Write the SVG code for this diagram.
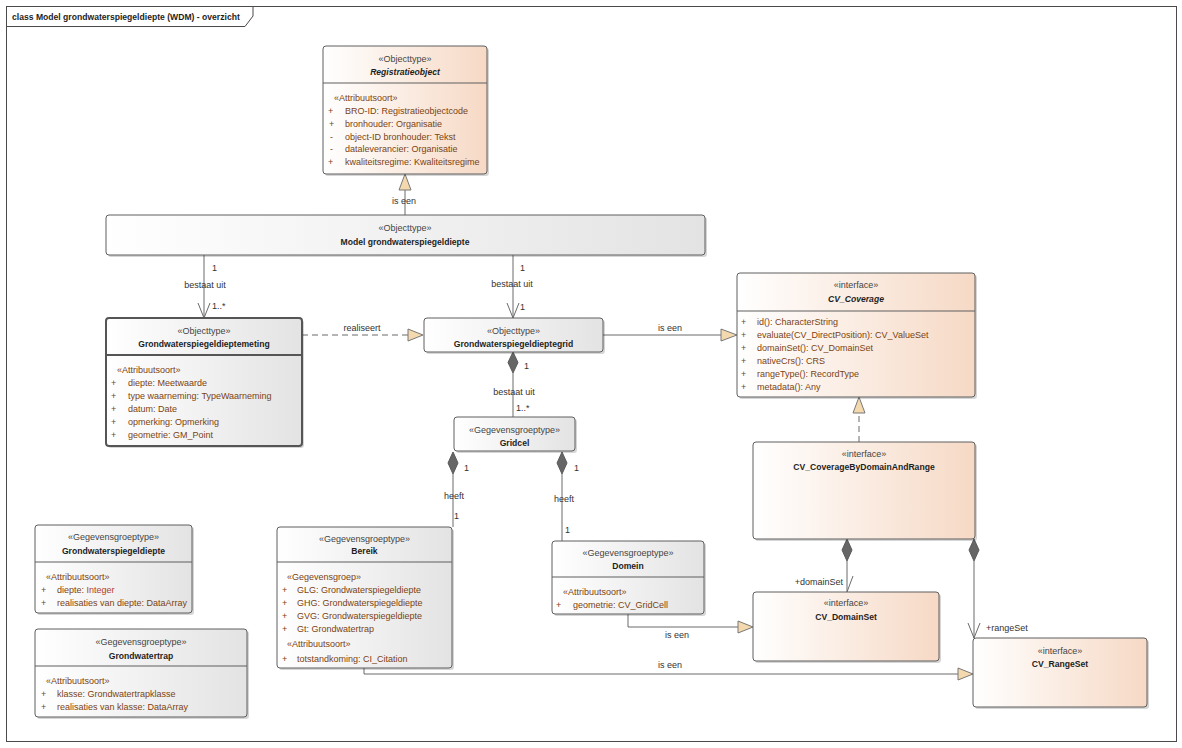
<svg xmlns="http://www.w3.org/2000/svg" width="1182" height="748" viewBox="0 0 1182 748">
<defs>
<linearGradient id="gGray" x1="0" y1="0" x2="1" y2="0"><stop offset="0" stop-color="#ffffff"/><stop offset="1" stop-color="#e3e3e3"/></linearGradient>
<linearGradient id="gPeach" x1="0" y1="0" x2="1" y2="0"><stop offset="0" stop-color="#ffffff"/><stop offset="1" stop-color="#f6d9c5"/></linearGradient>
<style>
.sh{fill:#000;opacity:0.16}
.bx{stroke:#5e5e5e;stroke-width:1}
.gy{fill:url(#gGray)}
.pc{fill:url(#gPeach)}
.dv{stroke:#5e5e5e;stroke-width:1}
text{font-family:"Liberation Sans",Arial,sans-serif;font-size:9px}
.st{fill:#444;text-anchor:middle}
.nm{fill:#1e1e1e;text-anchor:middle;font-weight:bold;font-size:8.6px}
.it{font-style:italic}
.at{fill:#7a4312}
.lb{fill:#333}
.md{text-anchor:middle}
.ln{stroke:#6a6a6a;stroke-width:1;fill:none}
.da{stroke-dasharray:6,4}
.tri{fill:#f4d9ae;stroke:#787878;stroke-width:1}
.dia{fill:#666;stroke:#5a5a5a;stroke-width:1}
</style>
</defs>
<rect x="0" y="0" width="1182" height="748" fill="#ffffff"/>
<g id="frame">
<rect x="6.5" y="6.5" width="1170" height="735" fill="#ffffff" stroke="#4a4a4a"/>
<path d="M6.5,26.5 H245 L253,16 V6.5" fill="none" stroke="#4a4a4a"/>
<text x="12" y="20" style="font-weight:bold;font-size:8.6px" fill="#1e1e1e">class Model grondwaterspiegeldiepte (WDM) - overzicht</text>
</g>

<g id="connectors">
<!-- Model -> Registratieobject -->
<line class="ln" x1="405" y1="215" x2="405" y2="190"/>
<polygon class="tri" points="405,174 399,190 411,190"/>
<text class="lb md" x="404" y="204">is een</text>
<!-- Model -> Meting -->
<line class="ln" x1="204" y1="255" x2="204" y2="318"/>
<path class="ln" d="M198,303 L204,318 L210,303"/>
<text class="lb" x="212" y="271">1</text>
<text class="lb md" x="205" y="288">bestaat uit</text>
<text class="lb" x="212" y="309">1..*</text>
<!-- Model -> Grid -->
<line class="ln" x1="513" y1="255" x2="513" y2="318"/>
<path class="ln" d="M507,303 L513,318 L519,303"/>
<text class="lb" x="520" y="271">1</text>
<text class="lb md" x="512" y="287">bestaat uit</text>
<text class="lb" x="520" y="310">1</text>
<!-- realiseert -->
<line class="ln da" x1="302" y1="335" x2="408" y2="335"/>
<polygon class="tri" points="423,335 408,329 408,341"/>
<text class="lb md" x="362" y="331">realiseert</text>
<!-- Grid -> CV_Coverage -->
<line class="ln" x1="603" y1="335" x2="721" y2="335"/>
<polygon class="tri" points="737,335 721,329 721,341"/>
<text class="lb md" x="670" y="331">is een</text>
<!-- Grid -> Gridcel -->
<line class="ln" x1="513" y1="373" x2="513" y2="417"/>
<polygon class="dia" points="513,352 518,362.5 513,373 508,362.5"/>
<text class="lb" x="524" y="369">1</text>
<text class="lb md" x="514" y="395">bestaat uit</text>
<text class="lb" x="516" y="411">1..*</text>
<!-- Gridcel -> Bereik -->
<line class="ln" x1="453" y1="474" x2="453" y2="527"/>
<polygon class="dia" points="453,452 458,463 453,474 448,463"/>
<text class="lb" x="464" y="471">1</text>
<text class="lb md" x="454" y="499">heeft</text>
<text class="lb" x="454" y="519">1</text>
<!-- Gridcel -> Domein -->
<line class="ln" x1="562" y1="474" x2="562" y2="541"/>
<polygon class="dia" points="562,452 567,463 562,474 557,463"/>
<text class="lb" x="574" y="471">1</text>
<text class="lb md" x="564" y="502">heeft</text>
<text class="lb" x="565" y="533">1</text>
<!-- CBDAR -> CV_Coverage -->
<line class="ln da" x1="859" y1="442" x2="859" y2="413"/>
<polygon class="tri" points="859,397 853,413 865,413"/>
<!-- CBDAR -> DomainSet -->
<line class="ln" x1="847" y1="561" x2="847" y2="592"/>
<polygon class="dia" points="847,539 852,550 847,561 842,550"/>
<path class="ln" d="M853,576 L847,592"/>
<text class="lb" x="843" y="585" text-anchor="end">+domainSet</text>
<!-- CBDAR -> RangeSet -->
<line class="ln" x1="974" y1="561" x2="974" y2="638"/>
<polygon class="dia" points="974,539 979,550 974,561 969,550"/>
<path class="ln" d="M968,623 L974,638 L980,623"/>
<text class="lb" x="986" y="631">+rangeSet</text>
<!-- Domein -> DomainSet -->
<path class="ln" d="M628,614 V627 H738"/>
<polygon class="tri" points="753,627 738,621 738,633"/>
<text class="lb md" x="677" y="638">is een</text>
<!-- Bereik -> RangeSet -->
<path class="ln" d="M364,668 V674 H958"/>
<polygon class="tri" points="973,674 958,668 958,680"/>
<text class="lb md" x="670" y="668">is een</text>
</g>

<g id="Registratieobject">
<rect class="sh" x="325" y="48" width="164" height="128" rx="3"/>
<rect class="bx pc" x="323" y="46" width="164" height="128" rx="3"/>
<line class="dv" x1="323" y1="83" x2="487" y2="83"/>
<text class="st" x="405" y="62">«Objecttype»</text>
<text class="nm it" x="405" y="75">Registratieobject</text>
<text class="at" x="334" y="101">«Attribuutsoort»</text>
<text class="at" x="328" y="114">+</text><text class="at" x="345" y="114">BRO-ID: Registratieobjectcode</text>
<text class="at" x="329" y="127">+</text><text class="at" x="345" y="127">bronhouder: Organisatie</text>
<text class="at" x="330" y="140">-</text><text class="at" x="345" y="140">object-ID bronhouder: Tekst</text>
<text class="at" x="330" y="152">-</text><text class="at" x="345" y="152">dataleverancier: Organisatie</text>
<text class="at" x="328" y="165">+</text><text class="at" x="345" y="165">kwaliteitsregime: Kwaliteitsregime</text>
</g>

<g id="ModelGrondwaterspiegeldiepte">
<rect class="sh" x="108" y="217" width="599" height="40" rx="3"/>
<rect class="bx gy" x="106" y="215" width="599" height="40" rx="3"/>
<text class="st" x="405" y="231">«Objecttype»</text>
<text class="nm" x="405" y="245">Model grondwaterspiegeldiepte</text>
</g>

<g id="Grondwaterspiegeldieptemeting">
<rect class="sh" x="108" y="320" width="196" height="128" rx="3"/>
<rect class="gy" x="106" y="318" width="196" height="128" rx="3" stroke="#555" stroke-width="2"/>
<line x1="106" y1="355" x2="302" y2="355" stroke="#555" stroke-width="2"/>
<text class="st" x="204" y="334">«Objecttype»</text>
<text class="nm" x="204" y="347">Grondwaterspiegeldieptemeting</text>
<text class="at" x="117" y="373">«Attribuutsoort»</text>
<text class="at" x="111" y="386">+</text><text class="at" x="128" y="386">diepte: Meetwaarde</text>
<text class="at" x="111" y="399">+</text><text class="at" x="128" y="399">type waarneming: TypeWaarneming</text>
<text class="at" x="111" y="412">+</text><text class="at" x="128" y="412">datum: Date</text>
<text class="at" x="111" y="425">+</text><text class="at" x="128" y="425">opmerking: Opmerking</text>
<text class="at" x="111" y="438">+</text><text class="at" x="128" y="438">geometrie: GM_Point</text>
</g>

<g id="Grondwaterspiegeldieptegrid">
<rect class="sh" x="426" y="320" width="179" height="34" rx="3"/>
<rect class="bx gy" x="424" y="318" width="179" height="34" rx="3"/>
<text class="st" x="513.5" y="334">«Objecttype»</text>
<text class="nm" x="513.5" y="347">Grondwaterspiegeldieptegrid</text>
</g>

<g id="CV_Coverage">
<rect class="sh" x="739" y="275" width="238" height="124" rx="3"/>
<rect class="bx pc" x="737" y="273" width="238" height="124" rx="3"/>
<line class="dv" x1="737" y1="311" x2="975" y2="311"/>
<text class="st" x="856" y="288">«interface»</text>
<text class="nm it" x="856" y="302">CV_Coverage</text>
<text class="at" x="741" y="325">+</text><text class="at" x="757" y="325">id(): CharacterString</text>
<text class="at" x="741" y="338">+</text><text class="at" x="757" y="338">evaluate(CV_DirectPosition): CV_ValueSet</text>
<text class="at" x="741" y="351">+</text><text class="at" x="757" y="351">domainSet(): CV_DomainSet</text>
<text class="at" x="741" y="364">+</text><text class="at" x="757" y="364">nativeCrs(): CRS</text>
<text class="at" x="741" y="377">+</text><text class="at" x="757" y="377">rangeType(): RecordType</text>
<text class="at" x="741" y="390">+</text><text class="at" x="757" y="390">metadata(): Any</text>
</g>

<g id="CV_CoverageByDomainAndRange">
<rect class="sh" x="755" y="444" width="222" height="97" rx="3"/>
<rect class="bx pc" x="753" y="442" width="222" height="97" rx="3"/>
<text class="st" x="864" y="457">«interface»</text>
<text class="nm" x="864" y="470">CV_CoverageByDomainAndRange</text>
</g>

<g id="CV_DomainSet">
<rect class="sh" x="755" y="594" width="186" height="69" rx="3"/>
<rect class="bx pc" x="753" y="592" width="186" height="69" rx="3"/>
<text class="st" x="846" y="606">«interface»</text>
<text class="nm" x="846" y="620">CV_DomainSet</text>
</g>

<g id="CV_RangeSet">
<rect class="sh" x="975" y="640" width="174" height="69" rx="3"/>
<rect class="bx pc" x="973" y="638" width="174" height="69" rx="3"/>
<text class="st" x="1060" y="654">«interface»</text>
<text class="nm" x="1060" y="667">CV_RangeSet</text>
</g>

<g id="Gridcel">
<rect class="sh" x="456" y="419" width="121" height="34" rx="3"/>
<rect class="bx gy" x="454" y="417" width="121" height="34" rx="3"/>
<text class="st" x="514.5" y="433">«Gegevensgroeptype»</text>
<text class="nm" x="514.5" y="446">Gridcel</text>
</g>

<g id="Bereik">
<rect class="sh" x="279" y="529" width="175" height="141" rx="3"/>
<rect class="bx gy" x="277" y="527" width="175" height="141" rx="3"/>
<line class="dv" x1="277" y1="562" x2="452" y2="562"/>
<text class="st" x="364.5" y="542">«Gegevensgroeptype»</text>
<text class="nm" x="364.5" y="554">Bereik</text>
<text class="at" x="287" y="580">«Gegevensgroep»</text>
<text class="at" x="282" y="593">+</text><text class="at" x="297" y="593">GLG: Grondwaterspiegeldiepte</text>
<text class="at" x="282" y="606">+</text><text class="at" x="297" y="606">GHG: Grondwaterspiegeldiepte</text>
<text class="at" x="282" y="619">+</text><text class="at" x="297" y="619">GVG: Grondwaterspiegeldiepte</text>
<text class="at" x="282" y="632">+</text><text class="at" x="297" y="632">Gt: Grondwatertrap</text>
<text class="at" x="287" y="647">«Attribuutsoort»</text>
<text class="at" x="282" y="662">+</text><text class="at" x="297" y="662">totstandkoming: CI_Citation</text>
</g>

<g id="Domein">
<rect class="sh" x="554" y="543" width="152" height="73" rx="3"/>
<rect class="bx gy" x="552" y="541" width="152" height="73" rx="3"/>
<line class="dv" x1="552" y1="577" x2="704" y2="577"/>
<text class="st" x="628" y="556">«Gegevensgroeptype»</text>
<text class="nm" x="628" y="569">Domein</text>
<text class="at" x="563" y="595">«Attribuutsoort»</text>
<text class="at" x="556" y="608">+</text><text class="at" x="573" y="608">geometrie: CV_GridCell</text>
</g>

<g id="Grondwaterspiegeldiepte">
<rect class="sh" x="37" y="527" width="157" height="88" rx="3"/>
<rect class="bx gy" x="35" y="525" width="157" height="88" rx="3"/>
<line class="dv" x1="35" y1="562" x2="192" y2="562"/>
<text class="st" x="113.5" y="540">«Gegevensgroeptype»</text>
<text class="nm" x="113.5" y="554">Grondwaterspiegeldiepte</text>
<text class="at" x="46" y="580">«Attribuutsoort»</text>
<text class="at" x="41" y="593">+</text><text class="at" x="57" y="593">diepte: <tspan fill="#b3401f">Integer</tspan></text>
<text class="at" x="41" y="606">+</text><text class="at" x="57" y="606">realisaties van diepte: DataArray</text>
</g>

<g id="Grondwatertrap">
<rect class="sh" x="37" y="631" width="212" height="88" rx="3"/>
<rect class="bx gy" x="35" y="629" width="212" height="88" rx="3"/>
<line class="dv" x1="35" y1="666" x2="247" y2="666"/>
<text class="st" x="141" y="645">«Gegevensgroeptype»</text>
<text class="nm" x="141" y="659">Grondwatertrap</text>
<text class="at" x="46" y="684">«Attribuutsoort»</text>
<text class="at" x="41" y="697">+</text><text class="at" x="57" y="697">klasse: Grondwatertrapklasse</text>
<text class="at" x="41" y="710">+</text><text class="at" x="57" y="710">realisaties van klasse: DataArray</text>
</g>
</svg>
